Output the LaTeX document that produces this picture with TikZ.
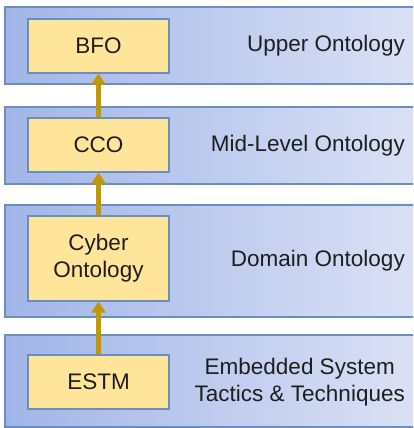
\documentclass[tikz,border=0pt]{standalone}
\usepackage{fontspec}
\setmainfont{Liberation Sans}
\usetikzlibrary{arrows.meta}
\definecolor{bandleft}{HTML}{A1B5E8}
\definecolor{bandright}{HTML}{DEE4F6}
\definecolor{bandline}{HTML}{6C8EBF}
\definecolor{boxfill}{HTML}{FFE599}
\definecolor{arrowgold}{HTML}{C49600}
\definecolor{labeltext}{HTML}{1E1E1E}
\begin{document}
\begin{tikzpicture}[x=1pt,y=-1pt,
	band/.style={draw=bandline,line width=1.3pt,left color=bandleft,right color=bandright},
	term/.style={draw=bandline,line width=1.3pt,fill=boxfill,text=labeltext,minimum width=141pt,minimum height=54pt,inner sep=0pt,align=center,font=\fontsize{22.5}{27}\selectfont},
	level/.style={anchor=east,inner sep=0pt,text=labeltext,align=center,font=\fontsize{22.5}{27}\selectfont},
	link/.style={draw=arrowgold,line width=4.2pt,-{Triangle[width=14pt,length=11pt]}}]
	\clip (0,0) rectangle (413,428);
	\fill[white] (0,0) rectangle (413,428);
	% the four layers, open to the right
	\draw[band] (5,7) rectangle (440,84);
	\draw[band] (5,107) rectangle (440,184);
	\draw[band] (5,205) rectangle (440,317);
	\draw[band] (5,335) rectangle (440,427);
	% ontologies
	\node[term] (bfo) at (98.5,46) {BFO};
	\node[term] (cco) at (98.5,145) {CCO};
	\node[term,minimum height=85pt] (cyber) at (98.5,258.5) {Cyber\\Ontology};
	\node[term] (estm) at (98.5,382) {ESTM};
	% layer names
	\node[level] (upper) at (405,46) {Upper Ontology};
	\node[level] (mid) at (405,146) {Mid-Level Ontology};
	\node[level] (domain) at (405,261) {Domain Ontology};
	\node[level] (tactics) at (405,382) {Embedded System\\Tactics \& Techniques};
	\draw[link] (estm) -- (cyber);
	\draw[link] (cyber) -- (cco);
	\draw[link] (cco) -- (bfo);
\end{tikzpicture}
\end{document}
